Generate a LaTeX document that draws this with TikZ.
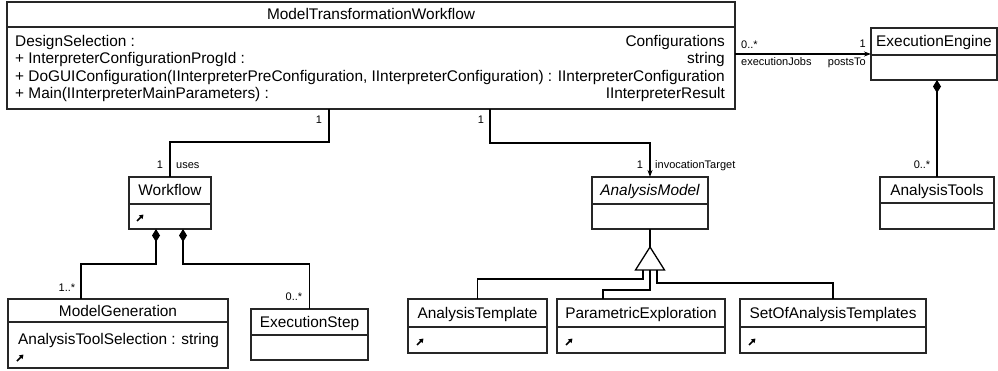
\documentclass[tikz,border=0pt]{standalone}
\usepackage{fontspec}
\setmainfont{Liberation Sans}
\usetikzlibrary{arrows.meta,calc}

% class box: name, x1, y1, x2, y2, y of compartment line, title
\newcommand{\classbox}[7]{%
  \node[clsbox, minimum width={(#4-#2)*1pt}, minimum height={(#5-#3)*1pt}] (#1) at (#2,#3) {};
  \draw[clsline] (#2,#6) -- (#4,#6);
  \node[ttl] (#1-name) at ({(#2+#4)/2},{(#3+#6)/2}) {#7};
}
% small operations marker drawn inside a compartment
\newcommand{\opmarker}[2]{\draw[iconarrow] (#1-3,#2+3) -- (#1+3.5,#2-3.5);}

\begin{document}
\begin{tikzpicture}[x=1pt,y=-1pt,
  clsbox/.style={draw=black!85, line width=1.1pt, anchor=north west, inner sep=0pt, outer sep=0pt},
  clsline/.style={draw=black!85, line width=1.1pt},
  ttl/.style={font=\fontsize{15.4}{18}\selectfont, inner sep=0pt, text height=11pt, text depth=0pt},
  attrl/.style={ttl, anchor=west},
  attrr/.style={ttl, anchor=east},
  lbl/.style={font=\fontsize{11}{13}\selectfont, inner sep=0pt, text height=7.9pt, text depth=0pt},
  link/.style={line width=1.3pt, black},
  iconarrow/.style={line width=1.6pt, black, -{Triangle[length=4pt,width=5pt]}},
  compose/.style={link, {Diamond[length=13pt,width=8pt]}-},
  navarrow/.style={link, -{Stealth[length=7pt,width=5pt]}}
]
\useasboundingbox (0,0) rectangle (998,371);

% ---- classes ----
\classbox{mtw}{7}{2}{735}{109}{27}{ModelTransformationWorkflow}
\node[attrl] (mtw-a1) at (15,41)   {DesignSelection :};
\node[attrl] (mtw-a2) at (15,58.5) {+ InterpreterConfigurationProgId :};
\node[attrl] (mtw-a3) at (15,76)   {+ DoGUIConfiguration(IInterpreterPreConfiguration, IInterpreterConfiguration) :};
\node[attrl] (mtw-a4) at (15,93.5) {+ Main(IInterpreterMainParameters) :};
\node[attrr] (mtw-t1) at (725,41)   {Configurations};
\node[attrr] (mtw-t2) at (725,58.5) {string};
\node[attrr] (mtw-t3) at (725,76)   {IInterpreterConfiguration};
\node[attrr] (mtw-t4) at (725,93.5) {IInterpreterResult};

\classbox{ee}{871}{28}{997}{80}{55}{ExecutionEngine}
\classbox{at}{880}{177}{994}{229}{203}{AnalysisTools}

\classbox{wf}{129}{177}{211}{229}{204}{Workflow}
\opmarker{140}{218}

\classbox{mg}{8}{299}{228}{368}{322}{ModelGeneration}
\node[attrl] (mg-a1) at (18,339) {AnalysisToolSelection : string};
\opmarker{20}{358}

\classbox{es}{251}{309}{368}{360}{335}{ExecutionStep}

\classbox{am}{592}{177}{708}{229}{204}{\itshape AnalysisModel}

\classbox{atp}{408}{299}{547}{353}{327}{AnalysisTemplate}
\opmarker{420}{342}
\classbox{pe}{557}{299}{725}{353}{327}{ParametricExploration}
\opmarker{569}{342}
\classbox{soat}{740}{299}{926}{353}{327}{SetOfAnalysisTemplates}
\opmarker{752}{342}

% ---- associations ----
\draw[navarrow] (mtw.east |- ee.west) -- (ee.west);
\node[lbl, anchor=west] (l-ej-m) at (741,45) {0..*};
\node[lbl, anchor=west] (l-ej)   at (741,62) {executionJobs};
\node[lbl, anchor=east] (l-pt-m) at (866,44) {1};
\node[lbl, anchor=east] (l-pt)   at (866,62) {postsTo};

\draw[link] (mtw.south -| 329,0) -- ++(0,33) -| (wf.north);
\node[lbl] (l-u1) at (319,120) {1};
\node[lbl] (l-u2) at (160,165) {1};
\node[lbl, anchor=west] (l-uses) at (176,165) {uses};

\draw[navarrow] (mtw.south -| 490,0) -- ++(0,34) -| (am.north);
\node[lbl] (l-i1) at (481,120) {1};
\node[lbl] (l-i2) at (640,165) {1};
\node[lbl, anchor=west] (l-inv) at (655,165) {invocationTarget};

% ---- compositions ----
\draw[compose] (ee.south -| at.north) -- (at.north);
\node[lbl] (l-at) at (922,165) {0..*};

\draw[compose] (wf.south -| 156,0) |- (81,264) -- (mg.north -| 81,0);
\node[lbl] (l-mg) at (67,288) {1..*};
\draw[compose] (wf.south -| 183,0) |- (es.north |- 0,264) -- (es.north);
\node[lbl] (l-es) at (294,297) {0..*};

% ---- generalization ----
\coordinate (genapex) at (650,247);
\coordinate (genbase) at (650,270);
\draw[link] (am.south) -- (genapex);
\draw[link, fill=white] (genapex) -- ($(genbase)+(14.5,0)$) -- ($(genbase)+(-14.5,0)$) -- cycle;
\draw[link] ($(genbase)+(-7,0)$) |- (atp.north |- 0,279) -- (atp.north);
\draw[link] (genbase) |- (603,290) -- (pe.north -| 603,0);
\draw[link] ($(genbase)+(7,0)$) |- (soat.north |- 0,283) -- (soat.north);
\end{tikzpicture}
\end{document}
